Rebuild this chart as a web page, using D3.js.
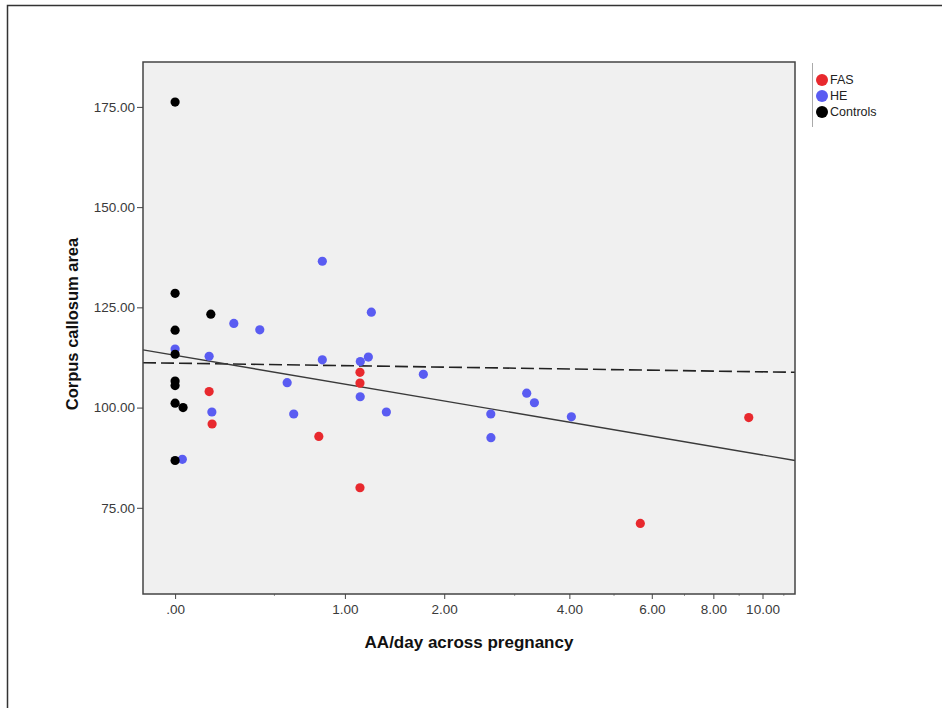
<!DOCTYPE html>
<html>
<head>
<meta charset="utf-8">
<script src="https://cdn.jsdelivr.net/npm/d3@7"></script>
<style>
  body { margin: 0; background: #fff; }
  svg text { font-family: "Liberation Sans", Arial, sans-serif; }
</style>
</head>
<body>
<div class="graphHolder"></div>
<script>
// values
let fasX = [0.149, 0.163, 0.798, 1.127, 1.127, 1.127, 5.68, 9.40],
  fasY = [104.0, 95.9, 92.8, 108.8, 106.1, 80.0, 71.1, 97.5];

let heX = [0, 0.030, 0.149, 0.162, 0.271, 0.413, 0.580, 0.623, 0.824, 0.824, 1.130,
    1.129, 1.201, 1.228, 1.369, 1.755, 2.628, 2.630, 3.201, 3.335, 4.041],
  heY = [114.6, 87.1, 112.8, 98.9, 121.0, 119.4, 106.2, 98.4, 136.5, 111.9, 111.5,
    102.7, 112.6, 123.8, 98.9, 108.3, 98.4, 92.5, 103.6, 101.2, 97.7];

let ctrlX = [0, 0, 0, 0, 0, 0, 0, 0, 0.033, 0.157],
  ctrlY = [176.2, 128.5, 119.3, 113.3, 106.6, 105.5, 101.1, 86.8, 100.0, 123.3];

// fit lines, given at the two ends of the x range
let fitX = [-0.14, 11.56],
  fitSolidY = [114.4, 86.8],
  fitDashedY = [111.2, 108.8];

let xTicks = [0, 1, 2, 4, 6, 8, 10],
  xMinorTicks = [0.5, 3, 5, 7, 9, 11],
  yTicks = [75, 100, 125, 150, 175];

let groups = ["FAS", "HE", "Controls"],
  colors = ["#e8292e", "#5a5cf2", "#000000"];

let w = 942,
  h = 710,
  pLeft = 143,
  pRight = 795,
  pTop = 62,
  pBottom = 594;

let svg = d3.select(".graphHolder")
  .append("svg")
  .attr("width", w)
  .attr("height", h);

// outer frame (top and left edges)
svg.append("path")
  .attr("d", "M7.5,708 L7.5,5.5 L942,5.5")
  .attr("fill", "none")
  .attr("stroke", "#333")
  .attr("stroke-width", 1.5);

let xScale = d3.scaleSymlog().constant(1)
  .domain(fitX)
  .range([pLeft, pRight]);

let yScale = d3.scaleLinear()
  .domain([53.5, 186.2])
  .range([pBottom, pTop]);

svg.append("rect")
  .attr("x", pLeft)
  .attr("y", pTop)
  .attr("width", pRight - pLeft)
  .attr("height", pBottom - pTop)
  .attr("fill", "#f0f0f0");

// minor ticks on the x axis
svg.selectAll(".minor")
  .data(xMinorTicks)
  .enter()
  .append("line")
  .attr("class", "minor")
  .attr("x1", d => xScale(d))
  .attr("x2", d => xScale(d))
  .attr("y1", pBottom)
  .attr("y2", pBottom + 2)
  .attr("stroke", "#999");

const xAxis = d3.axisBottom(xScale)
  .tickValues(xTicks)
  .tickSize(5)
  .tickSizeOuter(0)
  .tickPadding(5)
  .tickFormat(d => d === 0 ? ".00" : d.toFixed(2));

let xAxisGroup = svg.append("g")
  .attr("transform", "translate(0," + pBottom + ")")
  .call(xAxis);

const yAxis = d3.axisLeft(yScale)
  .tickValues(yTicks)
  .tickSize(6)
  .tickSizeOuter(0)
  .tickPadding(2)
  .tickFormat(d => d.toFixed(2));

let yAxisGroup = svg.append("g")
  .attr("transform", "translate(" + pLeft + ",0)")
  .call(yAxis);

[xAxisGroup, yAxisGroup].forEach(g => {
  g.select(".domain").remove();
  g.selectAll(".tick line").attr("stroke", "#444");
  g.selectAll(".tick text")
    .attr("fill", "#3a3a3a")
    .style("font-size", "13.5px");
});

// fit lines
let line = d3.line()
  .x(d => xScale(d[0]))
  .y(d => yScale(d[1]));

svg.append("path")
  .datum(d3.zip(fitX, fitDashedY))
  .attr("d", line)
  .attr("fill", "none")
  .attr("stroke", "#222")
  .attr("stroke-width", 1.6)
  .attr("stroke-dasharray", "13,5");

svg.append("path")
  .datum(d3.zip(fitX, fitSolidY))
  .attr("d", line)
  .attr("fill", "none")
  .attr("stroke", "#3a3a3a")
  .attr("stroke-width", 1.4);

// points
let series = [d3.zip(fasX, fasY), d3.zip(heX, heY), d3.zip(ctrlX, ctrlY)];

series.forEach((pts, i) => {
  svg.append("g")
    .selectAll("circle")
    .data(pts)
    .enter()
    .append("circle")
    .attr("cx", d => xScale(d[0]))
    .attr("cy", d => yScale(d[1]))
    .attr("r", 4.6)
    .attr("fill", colors[i]);
});

// plot frame
svg.append("rect")
  .attr("x", pLeft)
  .attr("y", pTop)
  .attr("width", pRight - pLeft)
  .attr("height", pBottom - pTop)
  .attr("fill", "none")
  .attr("stroke", "#444")
  .attr("stroke-width", 1.5);

// axis titles
svg.append("text")
  .attr("x", 469)
  .attr("y", 648)
  .attr("text-anchor", "middle")
  .style("font-size", "17px")
  .style("font-weight", "bold")
  .attr("fill", "#111")
  .text("AA/day across pregnancy");

svg.append("text")
  .attr("transform", "translate(78," + 324 + ") rotate(-90)")
  .attr("text-anchor", "middle")
  .style("font-size", "16.5px")
  .style("font-weight", "bold")
  .attr("fill", "#111")
  .text("Corpus callosum area");

// legend
svg.append("line")
  .attr("x1", 812.5)
  .attr("x2", 812.5)
  .attr("y1", 63)
  .attr("y2", 127)
  .attr("stroke", "#aaa");

let legend = svg.selectAll(".legend")
  .data(groups)
  .enter()
  .append("g")
  .attr("class", "legend")
  .attr("transform", (d, i) => "translate(822," + (80 + i * 16) + ")");

legend.append("circle")
  .attr("r", 6)
  .attr("fill", (d, i) => colors[i]);

legend.append("text")
  .attr("x", 8)
  .attr("dy", "0.35em")
  .style("font-size", "12.5px")
  .attr("fill", "#222")
  .text(d => d);
</script>
</body>
</html>
